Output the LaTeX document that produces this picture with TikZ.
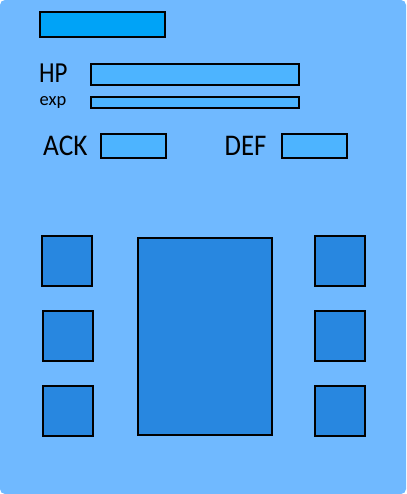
\documentclass[tikz,border=0pt]{standalone}
\usepackage{fontspec}
\setmainfont{Carlito}
\definecolor{bgc}{HTML}{70B9FF}
\definecolor{topc}{HTML}{00A3F7}
\definecolor{barc}{HTML}{4DB4FF}
\definecolor{sqc}{HTML}{2887E0}
\begin{document}
\begin{tikzpicture}[x=1pt,y=-1pt,
  box/.style={draw=black,line width=1.1pt},
  lbl/.style={inner sep=0pt,anchor=base west,text=black}]
\useasboundingbox (0,0) rectangle (406,494);
\fill[bgc,rounded corners=5pt] (0,0) rectangle (406,494);
% top name box
\draw[box,fill=topc] (40,12) rectangle (165,37);
% HP / exp
\node[lbl,font=\fontsize{29}{29}\selectfont,xscale=0.86] (hp) at (39,83) {HP};
\draw[box,fill=barc] (91,64) rectangle (299,85);
\node[lbl,font=\fontsize{18.5}{18.5}\selectfont] (exp) at (39.5,106) {exp};
\draw[box,fill=barc] (91,97) rectangle (299,108);
% ACK / DEF
\node[lbl,font=\fontsize{30}{30}\selectfont,xscale=0.91] (ack) at (43,156) {ACK};
\draw[box,fill=barc] (101,134) rectangle (166,158);
\node[lbl,font=\fontsize{30}{30}\selectfont,xscale=0.89] (def) at (224.5,156) {DEF};
\draw[box,fill=barc] (282,134) rectangle (347,158);
% slots
\draw[box,fill=sqc] (42,236) rectangle (92,286);
\draw[box,fill=sqc] (43,311) rectangle (93,361);
\draw[box,fill=sqc] (43,386) rectangle (93,436);
\draw[box,fill=sqc] (138,238) rectangle (272,435);
\draw[box,fill=sqc] (315,236) rectangle (365,286);
\draw[box,fill=sqc] (315,311) rectangle (365,361);
\draw[box,fill=sqc] (315,386) rectangle (365,436);
\end{tikzpicture}
\end{document}
